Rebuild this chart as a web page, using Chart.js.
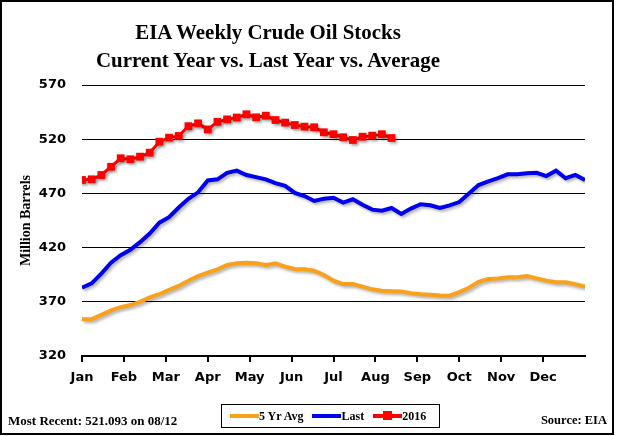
<!DOCTYPE html>
<html>
<head>
<meta charset="utf-8">
<script src="https://cdn.jsdelivr.net/npm/chart.js@4.4.1/dist/chart.umd.min.js"></script>
<style>
  body { margin: 0; background: #fff; }
  #wrap { position: relative; width: 617px; height: 436px; overflow: hidden; background: #fff; }
  #chart { position: absolute; left: 0; top: 0; }
  #frame { position: absolute; left: 0; top: 0; width: 614px; height: 435px; box-sizing: border-box; border: 2px solid #000; pointer-events: none; }
  .serif { font-family: "Liberation Serif", serif; font-weight: bold; color: #000; }
  #title { position: absolute; left: 0; top: 18px; width: 536px; text-align: center; font-size: 22px; line-height: 28px;
           transform: scaleX(0.95); transform-origin: 268px 0; }
  #recent { position: absolute; left: 8px; top: 413px; font-size: 13px; line-height: 15px; }
  #source { position: absolute; right: 10px; top: 413px; font-size: 12.5px; line-height: 15px; }
  #legend { position: absolute; left: 221px; top: 404px; width: 219px; height: 24px; box-sizing: border-box; border: 1px solid #000;
            display: flex; align-items: center; padding-left: 8px; font-size: 12px; }
  .item { display: flex; align-items: center; margin-right: 9px; }
  .sample { position: relative; width: 29px; height: 4px; }
  .sample .dot { position: absolute; left: 10px; top: -3px; width: 9px; height: 9px; }
</style>
</head>
<body>
<div id="wrap">
  <canvas id="chart" width="617" height="436"></canvas>
  <div id="title" class="serif">EIA Weekly Crude Oil Stocks<br>Current Year vs. Last Year vs. Average</div>
  <div id="legend" class="serif"></div>
  <div id="recent" class="serif">Most Recent: 521.093 on 08/12</div>
  <div id="source" class="serif">Source: EIA</div>
  <div id="frame"></div>
</div>
<script>
const monthLabels = ["Jan", "Feb", "Mar", "Apr", "May", "Jun", "Jul", "Aug", "Sep", "Oct", "Nov", "Dec"];
const yTicks = [320, 370, 420, 470, 520, 570];

// weekly values, million barrels
const avg5 = [354, 354, 358, 362, 365, 367, 370, 374, 377, 381, 384.6, 389.5, 393.8, 397, 400, 404,
  405.5, 406, 405.5, 404, 405.5, 402.4, 400.3, 400, 398.7, 394.7, 389.5, 386.4, 386.4, 384, 381.5,
  380.3, 379.8, 379.4, 378, 377, 376.5, 375.8, 375.6, 379, 383, 388.5, 391, 391.6, 392.6, 392.6,
  393.8, 391.6, 389.5, 388, 388, 386.2, 384];
const lastYear = [383, 387, 396, 406, 413, 418, 425, 433, 443, 448, 457, 465, 471, 482, 483, 489,
  491, 487, 485, 483, 479.5, 477, 470.5, 467.6, 463, 465, 466, 461.5, 464.6, 459.5, 455, 454, 456.5,
  451, 456, 460, 459, 456.5, 459, 462, 470, 477.7, 481, 484, 487.6, 487.6, 488.5, 489, 486, 491,
  484, 487, 482.4];
const current = [482.4, 483, 487, 494.6, 502.4, 501.5, 503.9, 507.6, 517.7, 521.4, 523, 532, 534.6,
  529, 536, 538.3, 540, 543, 540.2, 541.7, 537.7, 535.3, 533.1, 531.6, 531, 526.4, 524.6, 521.8,
  519.3, 522.3, 523.3, 524.6, 521.1];

// week i -> position on a 0..12 month scale
function toPoints(values) {
  return values.map((v, i) => ({ x: i * 12 / 52, y: v }));
}

const tickFont = { family: "DejaVu Sans", weight: "bold", size: 13 };

const stockData = {
  datasets: [
    {
      label: "5 Yr Avg",
      data: toPoints(avg5),
      borderColor: "#f9a11b",
      backgroundColor: "#f9a11b",
      borderWidth: 4,
      pointRadius: 0,
      tension: 0,
    },
    {
      label: "Last",
      data: toPoints(lastYear),
      borderColor: "#0000ee",
      backgroundColor: "#0000ee",
      borderWidth: 4,
      pointRadius: 0,
      tension: 0,
    },
    {
      label: "2016",
      data: toPoints(current),
      borderColor: "#ff0000",
      backgroundColor: "#ff0000",
      borderWidth: 3,
      pointStyle: "rect",
      pointRadius: 5.5,
      pointBorderWidth: 0,
      tension: 0,
    },
  ],
};

const stockOptions = {
  responsive: false,
  animation: false,
  layout: { padding: { top: 85, right: 32, left: 0, bottom: 0 } },
  plugins: { legend: { display: false }, tooltip: { enabled: false } },
  scales: {
    x: {
      type: "linear",
      min: 0,
      max: 12,
      afterBuildTicks: (s) => { s.ticks = monthLabels.map((m, i) => ({ value: i })); },
      afterFit: (s) => { s.height = 80; },
      grid: { drawOnChartArea: false, drawTicks: true, tickLength: 6, color: "#000", lineWidth: 2 },
      border: { color: "#000", width: 2 },
      ticks: {
        padding: 8,
        color: "#000",
        font: tickFont,
        maxRotation: 0,
        autoSkip: false,
        callback: (v) => monthLabels[v],
      },
    },
    y: {
      min: 320,
      max: 570,
      afterBuildTicks: (s) => { s.ticks = yTicks.map((v) => ({ value: v })); },
      afterFit: (s) => { s.width = 82; },
      grid: { color: "#000", lineWidth: 1, drawTicks: false },
      border: { display: false },
      ticks: { padding: 16, color: "#000", font: tickFont },
      title: {
        display: true,
        text: "Million Barrels",
        color: "#000",
        font: { family: "Liberation Serif", weight: "bold", size: 14 },
        padding: { top: 18, bottom: 0 },
      },
    },
  },
};

// soft grey drop shadow under the lines
const lineShadow = {
  id: "lineShadow",
  beforeDatasetDraw(chart) {
    const c = chart.ctx;
    c.save();
    c.shadowColor = "rgba(0,0,0,0.3)";
    c.shadowBlur = 3;
    c.shadowOffsetX = 2;
    c.shadowOffsetY = 2;
  },
  afterDatasetDraw(chart) {
    chart.ctx.restore();
  },
};

const stockChart = new Chart(document.getElementById("chart"), {
  type: "line",
  data: stockData,
  options: stockOptions,
  plugins: [lineShadow],
});

// legend built from the datasets
const legendBox = document.getElementById("legend");
stockChart.data.datasets.forEach((ds) => {
  const item = document.createElement("div");
  item.className = "item";
  const sample = document.createElement("span");
  sample.className = "sample";
  sample.style.background = ds.borderColor;
  if (ds.pointStyle === "rect") {
    const dot = document.createElement("span");
    dot.className = "dot";
    dot.style.background = ds.borderColor;
    sample.appendChild(dot);
  }
  const txt = document.createElement("span");
  txt.textContent = ds.label;
  item.appendChild(sample);
  item.appendChild(txt);
  legendBox.appendChild(item);
});
</script>
</body>
</html>
